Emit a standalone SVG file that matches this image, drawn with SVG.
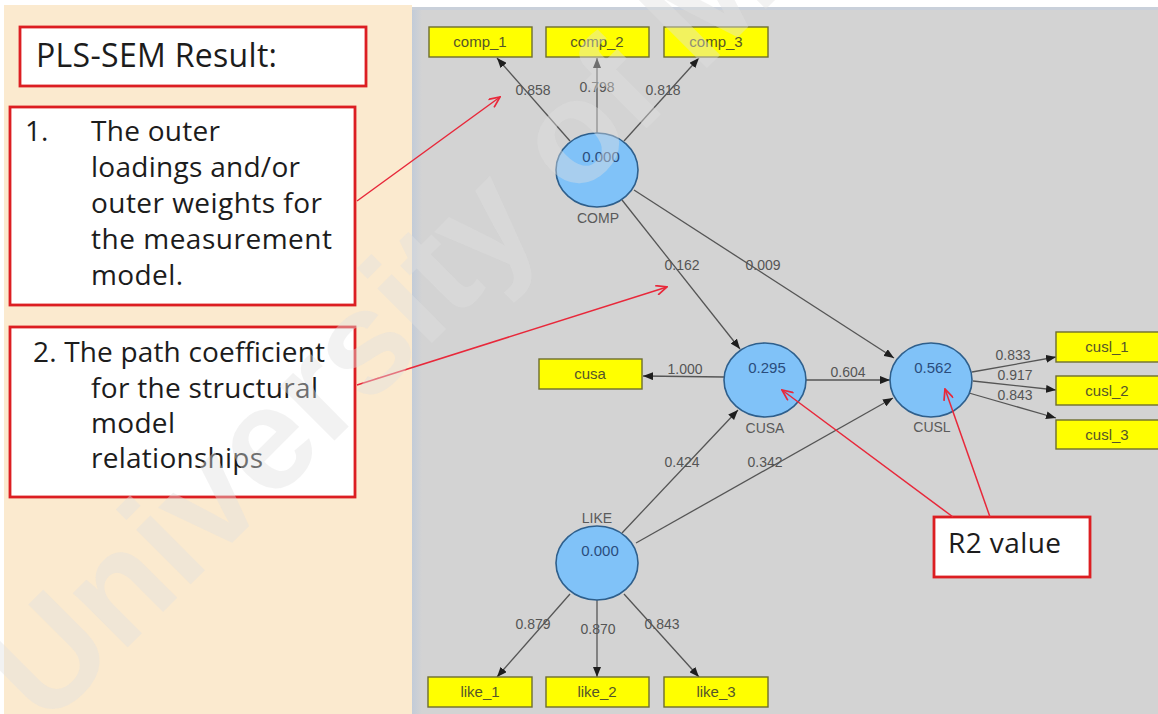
<svg xmlns="http://www.w3.org/2000/svg" width="1158" height="714" viewBox="0 0 1158 714">
  <defs>
    <style>
      .note { fill: #ffffff; stroke: #dc1e22; stroke-width: 2.8; }
      .note-text { font-family: "Open Sans", Lato, sans-serif; font-size: 28px; fill: #1c1c1c; }
      .title-text { font-size: 32px; }
      .ind { fill: #ffff00; stroke: #6e6e2e; stroke-width: 1.4; }
      .ind-text { font-family: "Liberation Sans", Arial, sans-serif; font-size: 15px; fill: #55552a; text-anchor: middle; }
      .lv { fill: #80c2f8; stroke: #2e5f8c; stroke-width: 1.6; }
      .lv-val { font-family: "Liberation Sans", Arial, sans-serif; font-size: 15px; fill: #2a4c7c; text-anchor: middle; }
      .lv-name { font-family: "Liberation Sans", Arial, sans-serif; font-size: 14px; fill: #5a5a5a; text-anchor: middle; }
      .coef { font-family: "Liberation Sans", Arial, sans-serif; font-size: 14px; fill: #555555; text-anchor: middle; }
      .path { stroke: #555555; stroke-width: 1.3; fill: none; marker-end: url(#tip); }
      .pointer { stroke: #e8283a; stroke-width: 1.5; fill: none; marker-end: url(#chev); }
    </style>
    <marker id="tip" viewBox="0 0 10 8" refX="10" refY="4" markerWidth="10" markerHeight="8" markerUnits="userSpaceOnUse" orient="auto">
      <path d="M0,0 L10,4 L0,8 Z" fill="#1e1e1e"/>
    </marker>
    <marker id="chev" viewBox="0 0 12 10" refX="11" refY="5" markerWidth="13" markerHeight="11" markerUnits="userSpaceOnUse" orient="auto">
      <path d="M1,0.5 L11,5 L1,9.5" fill="none" stroke="#e8283a" stroke-width="1.6"/>
    </marker>
    <linearGradient id="edge" x1="0" y1="0" x2="1" y2="0">
      <stop offset="0" stop-color="#c2cbd8"/>
      <stop offset="1" stop-color="#d3d3d3"/>
    </linearGradient>
  </defs>

  <!-- backgrounds -->
  <rect x="0" y="0" width="1158" height="714" fill="#ffffff"/>
  <rect x="4" y="5" width="408" height="709" fill="#fbeacf"/>
  <rect x="412" y="7" width="746" height="707" fill="#d3d3d3"/>
  <rect x="412" y="7" width="10" height="707" fill="url(#edge)"/>
  <rect x="412" y="7" width="746" height="3" fill="#c9d0da"/>

  <!-- annotation boxes -->
  <g id="title-box">
    <rect class="note" x="20" y="27" width="346" height="59"/>
    <text class="note-text title-text" x="36" y="67" textLength="241">PLS-SEM Result:</text>
  </g>
  <g id="note-outer">
    <rect class="note" x="10" y="107" width="345" height="198"/>
    <text class="note-text" x="25" y="141">1.</text>
    <text class="note-text" x="91" y="141" textLength="129">The outer</text>
    <text class="note-text" x="91" y="177" textLength="209">loadings and/or</text>
    <text class="note-text" x="91" y="213" textLength="231">outer weights for</text>
    <text class="note-text" x="91" y="249" textLength="241">the measurement</text>
    <text class="note-text" x="91" y="285" textLength="92">model.</text>
  </g>
  <g id="note-path">
    <rect class="note" x="10" y="327" width="345" height="170"/>
    <text class="note-text" x="33" y="362" textLength="292">2. The path coefficient</text>
    <text class="note-text" x="91" y="398" textLength="227">for the structural</text>
    <text class="note-text" x="91" y="433" textLength="84">model</text>
    <text class="note-text" x="91" y="468" textLength="172">relationships</text>
  </g>
  <g id="note-r2">
    <rect class="note" x="934" y="517" width="156" height="60"/>
    <text class="note-text" x="948" y="553" textLength="113">R2 value</text>
  </g>

  <!-- connectors -->
  <g id="connectors">
    <line class="path" x1="570" y1="141" x2="497" y2="58"/>
    <line class="path" x1="597" y1="133" x2="597" y2="58"/>
    <line class="path" x1="624" y1="141" x2="699" y2="58"/>
    <line class="path" x1="622" y1="200" x2="740" y2="349"/>
    <line class="path" x1="634" y1="190" x2="894" y2="358"/>
    <line class="path" x1="724" y1="377" x2="643" y2="376"/>
    <line class="path" x1="806" y1="380" x2="890" y2="380"/>
    <line class="path" x1="622" y1="533" x2="738" y2="410"/>
    <line class="path" x1="636" y1="543" x2="893" y2="398"/>
    <line class="path" x1="972" y1="372" x2="1056" y2="357"/>
    <line class="path" x1="973" y1="381" x2="1056" y2="390"/>
    <line class="path" x1="969" y1="393" x2="1056" y2="418"/>
    <line class="path" x1="570" y1="594" x2="497" y2="677"/>
    <line class="path" x1="597" y1="600" x2="597" y2="677"/>
    <line class="path" x1="624" y1="594" x2="699" y2="677"/>

    <text class="coef" x="533" y="95">0.858</text>
    <text class="coef" x="597" y="92">0.798</text>
    <text class="coef" x="663" y="95">0.818</text>
    <text class="coef" x="682" y="270">0.162</text>
    <text class="coef" x="763" y="270">0.009</text>
    <text class="coef" x="685" y="374">1.000</text>
    <text class="coef" x="848" y="377">0.604</text>
    <text class="coef" x="682" y="467">0.424</text>
    <text class="coef" x="765" y="467">0.342</text>
    <text class="coef" x="1013" y="360">0.833</text>
    <text class="coef" x="1015" y="380">0.917</text>
    <text class="coef" x="1015" y="400">0.843</text>
    <text class="coef" x="533" y="629">0.879</text>
    <text class="coef" x="598" y="634">0.870</text>
    <text class="coef" x="662" y="629">0.843</text>
  </g>

  <!-- indicators -->
  <g id="comp_1"><rect class="ind" x="429" y="27" width="103" height="30"/><text class="ind-text" x="480" y="47">comp_1</text></g>
  <g id="comp_2"><rect class="ind" x="546" y="27" width="103" height="30"/><text class="ind-text" x="597" y="47">comp_2</text></g>
  <g id="comp_3"><rect class="ind" x="664" y="27" width="104" height="30"/><text class="ind-text" x="716" y="47">comp_3</text></g>
  <g id="cusa"><rect class="ind" x="539" y="359" width="103" height="30"/><text class="ind-text" x="590" y="379">cusa</text></g>
  <g id="cusl_1"><rect class="ind" x="1056" y="332" width="104" height="30"/><text class="ind-text" x="1107" y="352">cusl_1</text></g>
  <g id="cusl_2"><rect class="ind" x="1056" y="376" width="104" height="29"/><text class="ind-text" x="1107" y="396">cusl_2</text></g>
  <g id="cusl_3"><rect class="ind" x="1056" y="420" width="104" height="29"/><text class="ind-text" x="1107" y="440">cusl_3</text></g>
  <g id="like_1"><rect class="ind" x="428" y="677" width="104" height="30"/><text class="ind-text" x="480" y="697">like_1</text></g>
  <g id="like_2"><rect class="ind" x="546" y="677" width="103" height="30"/><text class="ind-text" x="597" y="697">like_2</text></g>
  <g id="like_3"><rect class="ind" x="664" y="677" width="104" height="30"/><text class="ind-text" x="716" y="697">like_3</text></g>

  <!-- latent variables -->
  <g id="COMP">
    <ellipse class="lv" cx="597" cy="170" rx="41" ry="37"/>
    <text class="lv-val" x="601" y="162">0.000</text>
    <text class="lv-name" x="598" y="223">COMP</text>
  </g>
  <g id="CUSA">
    <ellipse class="lv" cx="765" cy="380" rx="41" ry="37"/>
    <text class="lv-val" x="767" y="373">0.295</text>
    <text class="lv-name" x="765" y="433">CUSA</text>
  </g>
  <g id="CUSL">
    <ellipse class="lv" cx="931" cy="380" rx="41" ry="37"/>
    <text class="lv-val" x="933" y="373">0.562</text>
    <text class="lv-name" x="932" y="432">CUSL</text>
  </g>
  <g id="LIKE">
    <ellipse class="lv" cx="597" cy="563" rx="41" ry="37"/>
    <text class="lv-val" x="600" y="556">0.000</text>
    <text class="lv-name" x="597" y="523">LIKE</text>
  </g>

  <!-- red call-out pointers, drawn over the model -->
  <g id="pointers">
    <line class="pointer" x1="357" y1="201" x2="500" y2="97"/>
    <line class="pointer" x1="357" y1="385" x2="667" y2="287"/>
    <line class="pointer" x1="953" y1="517" x2="782" y2="390"/>
    <line class="pointer" x1="990" y1="517" x2="945" y2="389"/>
  </g>

  <!-- repository watermark -->
  <text transform="translate(46 729) rotate(-45)" font-family="'Liberation Sans', Arial, sans-serif" font-size="146" font-weight="bold" fill="#e0e0e0" fill-opacity="0.42">University of M</text>
</svg>
